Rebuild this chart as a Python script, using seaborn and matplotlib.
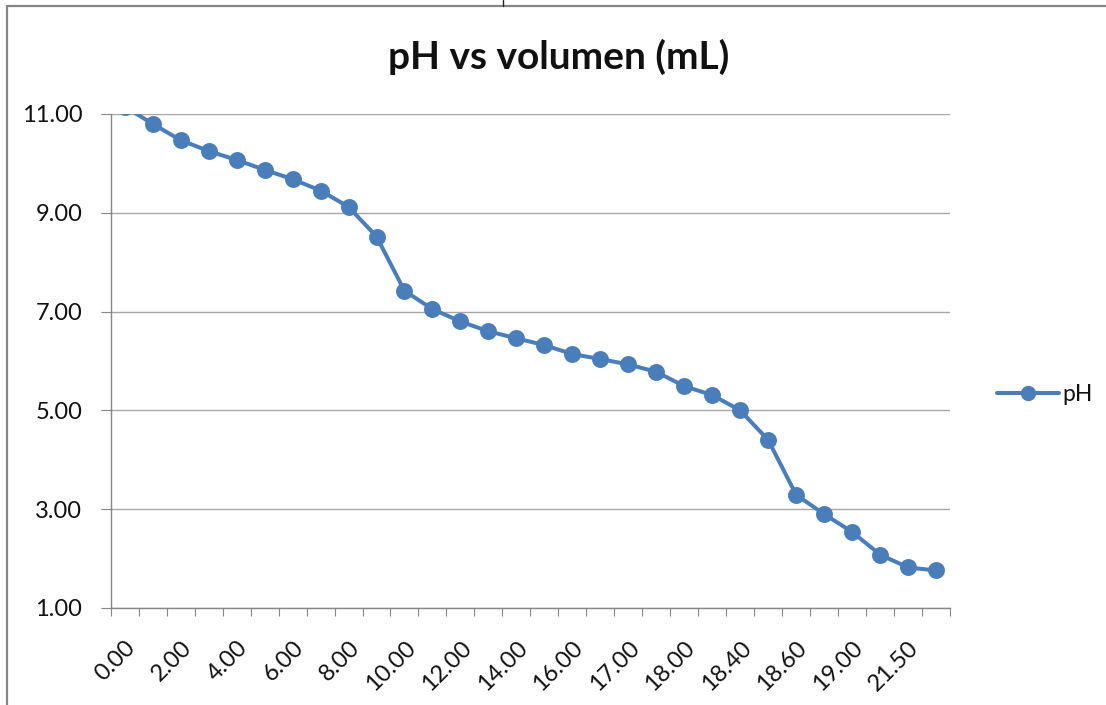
import numpy as np
import pandas as pd
import matplotlib
matplotlib.use("Agg")
import matplotlib.pyplot as plt
from matplotlib.lines import Line2D
import seaborn as sns

# Titration data: added volume (mL) and measured pH
volumen = [0.00, 1.00, 2.00, 3.00, 4.00, 5.00, 6.00, 7.00, 8.00, 9.00,
           10.00, 11.00, 12.00, 13.00, 14.00, 15.00, 16.00, 16.50, 17.00, 17.50,
           18.00, 18.20, 18.40, 18.50, 18.60, 18.80, 19.00, 20.00, 21.50, 22.00]
ph = [11.15, 10.80, 10.47, 10.25, 10.07, 9.87, 9.68, 9.45, 9.12, 8.52,
      7.42, 7.05, 6.80, 6.60, 6.46, 6.32, 6.14, 6.04, 5.93, 5.78,
      5.49, 5.31, 5.00, 4.40, 3.29, 2.90, 2.54, 2.08, 1.82, 1.76]
y_ticks = [1, 3, 5, 7, 9, 11]
title = "pH vs volumen (mL)"
series_name = "pH"

vol_labels = [f"{v:.2f}" for v in volumen]
df = pd.DataFrame({"volumen": vol_labels, "pH": ph})

sns.set_theme(style="white")
plt.rcParams["font.family"] = ["Lato", "DejaVu Sans"]

BLUE = "#4A7EBB"
GRID = "#A6A6A6"
AXIS = "#868686"

fig = plt.figure(figsize=(11.06, 7.05), dpi=100)
ax = fig.add_axes([0.1001, 0.1376, 0.859 - 0.1001, 0.8383 - 0.1376])

sns.pointplot(data=df, x="volumen", y="pH", order=vol_labels, ax=ax,
              color=BLUE, markers="o", linestyles="-", markersize=10,
              linewidth=2.9, errorbar=None)
for art in ax.lines:
    art.set_clip_on(True)

n = len(vol_labels)
ax.set_xlim(-0.5, n - 0.5)
ax.set_ylim(y_ticks[0], y_ticks[-1])

# y axis
ax.set_yticks(y_ticks, labels=[f"{t:.2f}" for t in y_ticks])
ax.yaxis.grid(True, color=GRID, linewidth=1.0)
ax.xaxis.grid(False)
ax.tick_params(axis="y", which="major", direction="out", length=7.5, width=0.8,
               color=AXIS, pad=13, labelsize=17, labelcolor="#111111", left=True)

# x axis: tick marks between categories, labels on every other category
ax.set_xticks(np.arange(-0.5, n, 1.0), minor=True)
ax.set_xticks(range(0, n, 2), labels=[vol_labels[i] for i in range(0, n, 2)])
ax.tick_params(axis="x", which="minor", direction="out", length=6, width=0.8,
               color=AXIS, bottom=True)
ax.tick_params(axis="x", which="major", length=0, pad=21, labelsize=17,
               labelcolor="#111111")
for lab in ax.get_xticklabels():
    lab.set_rotation(45)
    lab.set_ha("right")
    lab.set_va("top")
    lab.set_rotation_mode("anchor")

ax.set_xlabel("")
ax.set_ylabel("")
for side in ["top", "right"]:
    ax.spines[side].set_visible(False)
for side in ["left", "bottom"]:
    ax.spines[side].set_color(AXIS)
    ax.spines[side].set_linewidth(1.0)

fig.text(0.5054, 0.92, title, ha="center", va="center", fontsize=28,
         fontweight="bold", color="#111111")

# legend
handle = Line2D([0], [0], color=BLUE, linewidth=2.9, marker="o", markersize=10)
fig.legend([handle], [series_name], loc="center left",
           bbox_to_anchor=(0.883, 0.44), frameon=False, fontsize=16.5,
           handlelength=2.7, handletextpad=0.15, labelcolor="#111111")

# chart area border
fig.add_artist(Line2D([7 / 1106, 1.0], [1 - 6 / 705, 1 - 6 / 705],
                      transform=fig.transFigure, color=AXIS, linewidth=1.6))
fig.add_artist(Line2D([7 / 1106, 7 / 1106], [0.0, 1 - 6 / 705],
                      transform=fig.transFigure, color=AXIS, linewidth=1.6))
fig.add_artist(Line2D([503 / 1106, 503 / 1106], [1 - 6 / 705, 1.0],
                      transform=fig.transFigure, color="#222222", linewidth=1.0))

fig.savefig("out.png", dpi=100, facecolor="white")
